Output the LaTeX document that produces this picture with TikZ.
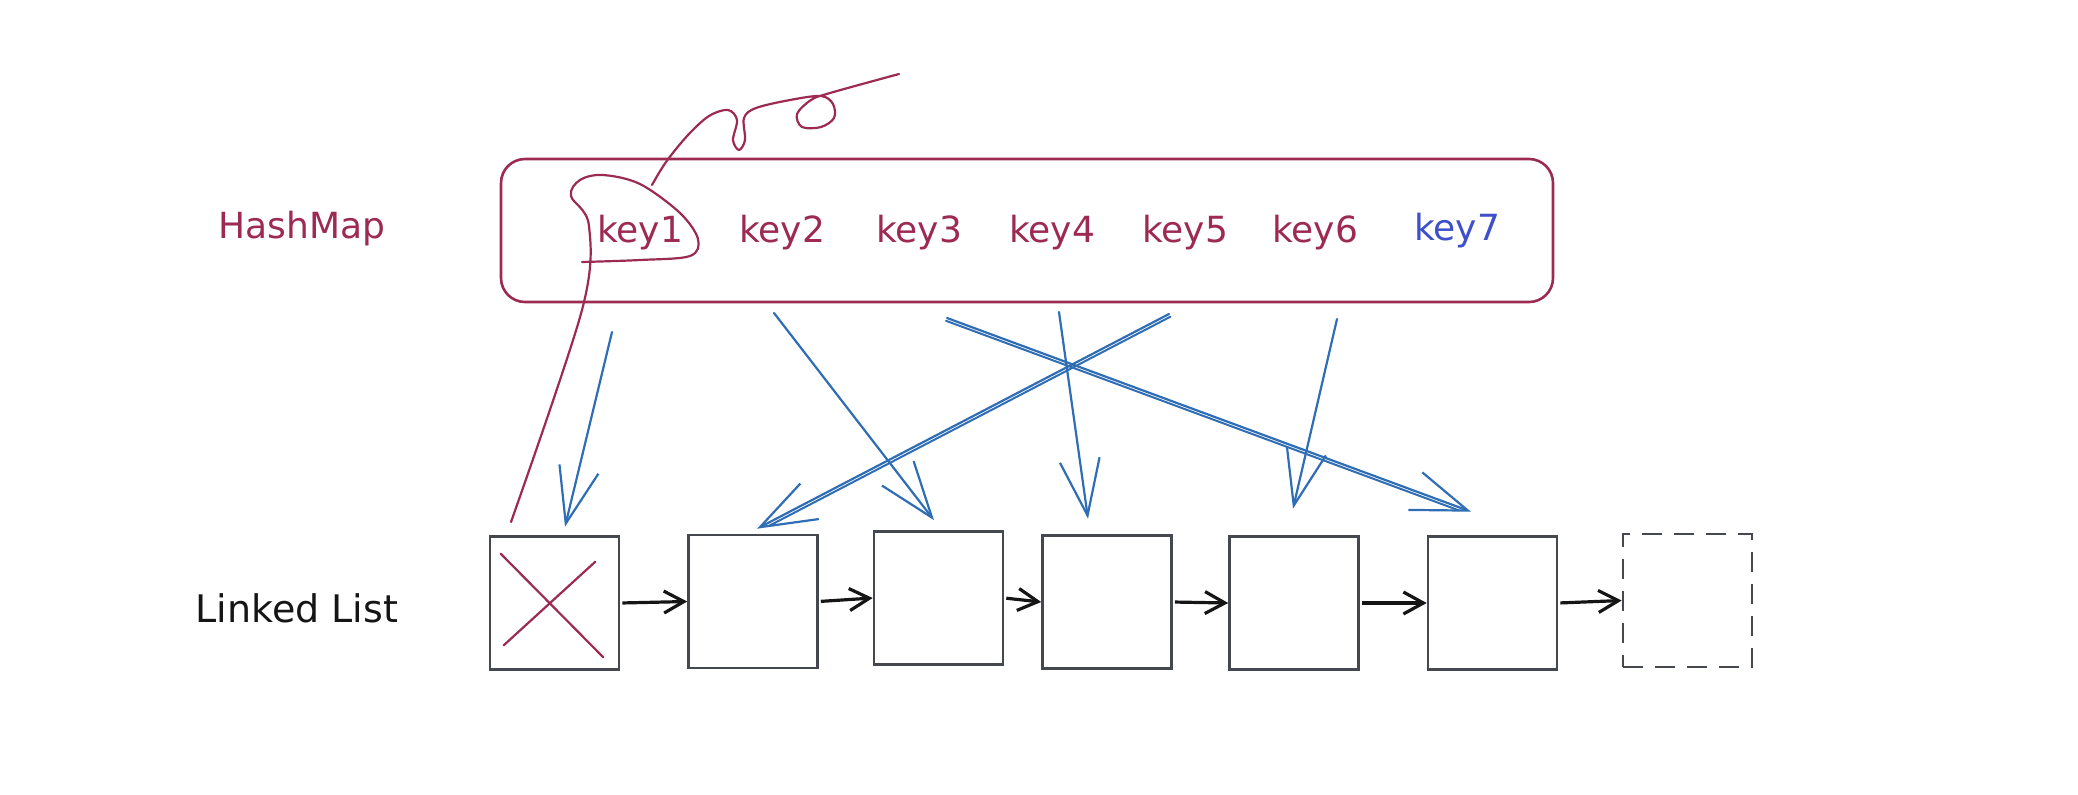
\documentclass[tikz,border=0pt]{standalone}
\usepackage{fontspec}
\setmainfont{DejaVu Sans}
\usetikzlibrary{arrows.meta}
\definecolor{crim}{HTML}{9C2A52}
\definecolor{barrow}{HTML}{2F6DB5}
\definecolor{kblue}{HTML}{3D4FC9}
\definecolor{boxgray}{HTML}{45494F}
\definecolor{ink}{HTML}{151515}
\begin{document}
\begin{tikzpicture}[x=0.5pt,y=-0.5pt,
  listbox/.style={draw=boxgray, line width=1.3pt, minimum width=64.5pt, minimum height=66.5pt, inner sep=0pt},
  keytxt/.style={text=crim, font=\fontsize{18}{20}\selectfont, inner sep=0pt, anchor=base},
  ptr/.style={draw=barrow, line width=1.1pt, line cap=round, -{Straight Barb[length=28pt,width=20pt]}},
  ptrtwin/.style={draw=barrow, line width=1pt, line cap=round, shorten >=6pt},
  nextptr/.style={draw=ink, line width=1.6pt, -{Straight Barb[length=10pt,width=11pt]}, shorten <=1pt},
  redline/.style={draw=crim, line width=1.1pt, line cap=round, line join=round}]
\useasboundingbox (0,0) rectangle (2078,794);

% labels
\node[keytxt] (hmlabel) at (302,238) {HashMap};
\node[keytxt, text=ink, font=\fontsize{19}{21}\selectfont] (lllabel) at (297,622) {Linked List};

% hashmap box
\node[draw=crim, line width=1.3pt, rounded corners=12pt, minimum width=526pt, minimum height=71.5pt, inner sep=0pt] (hm) at (1027,230.5) {};

% keys
\node[keytxt] (k1) at (640,242) {key1};
\node[keytxt] (k2) at (782,242) {key2};
\node[keytxt] (k3) at (919,242) {key3};
\node[keytxt] (k4) at (1052,242) {key4};
\node[keytxt] (k5) at (1185,242) {key5};
\node[keytxt] (k6) at (1315,242) {key6};
\node[keytxt, text=kblue] (k7) at (1457,240) {key7};

% linked list boxes
\node[listbox] (b1) at (554.5,603) {};
\node[listbox] (b2) at (753,601.5) {};
\node[listbox] (b3) at (938.5,598) {};
\node[listbox] (b4) at (1107,602) {};
\node[listbox] (b5) at (1294,603) {};
\node[listbox] (b6) at (1492.5,603) {};
\node[listbox, dash pattern=on 10pt off 6pt] (b7) at (1687.5,600.5) {};

% red cross in first box
\draw[redline] ([shift={(12,18.5)}]b1.north west) -- ([shift={(-17,-13.5)}]b1.south east);
\draw[redline] ([shift={(-25,26.5)}]b1.north east) -- ([shift={(15,-25.5)}]b1.south west);

% next pointers
\draw[nextptr] (b1.east) -- (b2.west);
\draw[nextptr] (b2.east) -- (b3.west);
\draw[nextptr] (b3.east) -- (b4.west);
\draw[nextptr] (b4.east) -- (b5.west);
\draw[nextptr] (b5.east) -- (b6.west);
\draw[nextptr] (b6.east) -- (b7.west);

% key -> node pointers
\coordinate (s1) at (612,332);
\coordinate (s2) at (774,313);
\coordinate (s3) at (947,318);
\coordinate (s4) at (1059,312);
\coordinate (s5) at (1169,314);
\coordinate (s6) at (1337,319);
\draw[ptr] (s1) -- ([shift={(10.5,-8.5)}]b1.north);
\draw[ptr] (s2) -- ([shift={(-4.5,-10)}]b3.north);
\draw[ptr] (s3) -- ([shift={(-21.5,-23.5)}]b6.north);
\draw[ptrtwin] ([shift={(-1,2.8)}]s3) -- ([shift={(-22.5,-20.7)}]b6.north);
\draw[ptr] (s4) -- ([shift={(-19,-15.5)}]b4.north);
\draw[ptr] (s5) -- ([shift={(4,-5)}]b2.north);
\draw[ptrtwin] ([shift={(1.4,2.7)}]s5) -- ([shift={(5.4,-2.3)}]b2.north);
\draw[ptr] (s6) -- ([shift={(-1,-26.5)}]b5.north);

% red lasso around key1 linking to the first node
\draw[redline] ([shift={(-43.5,-14.5)}]b1.north) plot[smooth, tension=0.55] coordinates {
  (511,522) (582,310) (589,226) (571,196) (580,180) (603,175) (640,184) (680,213) (698,239) (690,256) (640,260) (582,262)};
\draw[redline] plot[smooth, tension=0.55] coordinates {
  (652,185) (666,162) (688,135) (709,116) (728,110) (737,120) (733,140) (739,150) (745,140) (744,118) (756,108) (790,100) (821,96) (833,104) (834,118) (821,127) (802,127) (797,114) (811,100) (830,93) (899,74)};
\end{tikzpicture}
\end{document}
